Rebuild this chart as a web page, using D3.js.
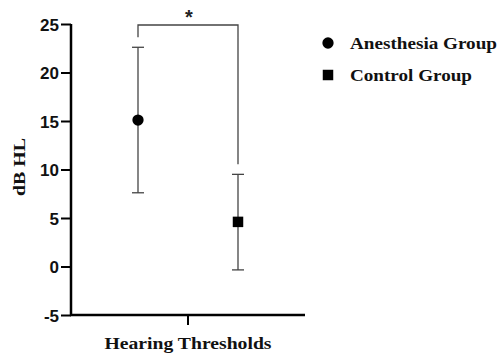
<!DOCTYPE html>
<html>
<head>
<meta charset="utf-8">
<script src="https://cdn.jsdelivr.net/npm/d3@7"></script>
<style>
  body { margin: 0; background: #fff; }
  .tick text { font-family: "Liberation Sans", Arial, sans-serif; font-weight: bold; font-size: 17px; fill: #111; }
  .serif { font-family: "Liberation Serif", "Times New Roman", serif; font-weight: bold; fill: #111; }
</style>
</head>
<body>
<div id="main"></div>
<script>
var groups = ["Anesthesia Group", "Control Group"];
var means = [15.1, 4.6];
var upper = [22.6, 9.5];
var lower = [7.6, -0.35];
var yTicks = [-5, 0, 5, 10, 15, 20, 25];
var signif = "*";

var width = 501, height = 354;
var margin = { left: 71, top: 24, right: 196, bottom: 39 };

var svg = d3.select("#main").append("svg")
    .attr("width", width)
    .attr("height", height);

var y = d3.scaleLinear().domain([-5, 25]).range([height - margin.bottom, margin.top]);
var x = d3.scalePoint().domain(groups).range([138, 238]);
var xAxisScale = d3.scaleBand().domain(["Hearing Thresholds"]).range([margin.left, width - margin.right]);

// y axis
var yAxis = svg.append("g")
    .attr("transform", "translate(" + margin.left + ",0)")
    .call(d3.axisLeft(y).tickValues(yTicks).tickSize(10).tickPadding(2)
        .tickFormat(function (d) { return String(d); }));
yAxis.select(".domain").attr("stroke-width", 2.5).attr("d", "M0," + y(-5) + "V" + y(25));
yAxis.selectAll(".tick line").attr("stroke-width", 2);
yAxis.selectAll(".tick text").attr("dy", "0.36em");

// x axis
var xAxis = svg.append("g")
    .attr("transform", "translate(0," + y(-5) + ")")
    .call(d3.axisBottom(xAxisScale).tickSize(10).tickFormat(""));
xAxis.select(".domain").attr("stroke-width", 2.5)
    .attr("d", "M" + (margin.left - 1) + ",0H" + (width - margin.right));
xAxis.selectAll(".tick line").attr("stroke-width", 2);

svg.append("text")
    .attr("class", "serif")
    .attr("x", xAxisScale("Hearing Thresholds") + xAxisScale.bandwidth() / 2)
    .attr("y", 349)
    .attr("text-anchor", "middle")
    .attr("font-size", 17)
    .attr("textLength", 167)
    .attr("lengthAdjust", "spacingAndGlyphs")
    .text("Hearing Thresholds");

svg.append("text")
    .attr("class", "serif")
    .attr("transform", "translate(25," + 167 + ") rotate(-90)")
    .attr("text-anchor", "middle")
    .attr("font-size", 17)
    .attr("textLength", 58)
    .attr("lengthAdjust", "spacingAndGlyphs")
    .text("dB HL");

// error bars
var eb = svg.selectAll(".eb").data(groups).enter().append("g").attr("class", "eb")
    .attr("stroke", "#444").attr("stroke-width", 1.3);
eb.append("line")
    .attr("x1", function (d) { return x(d); })
    .attr("x2", function (d) { return x(d); })
    .attr("y1", function (d, i) { return y(upper[i]); })
    .attr("y2", function (d, i) { return y(lower[i]); });
eb.append("line")
    .attr("x1", function (d) { return x(d) - 6; })
    .attr("x2", function (d) { return x(d) + 6; })
    .attr("y1", function (d, i) { return y(upper[i]); })
    .attr("y2", function (d, i) { return y(upper[i]); });
eb.append("line")
    .attr("x1", function (d) { return x(d) - 6; })
    .attr("x2", function (d) { return x(d) + 6; })
    .attr("y1", function (d, i) { return y(lower[i]); })
    .attr("y2", function (d, i) { return y(lower[i]); });

// markers
var sym = d3.scaleOrdinal().domain(groups).range([d3.symbolCircle, d3.symbolSquare]);
var symSize = d3.scaleOrdinal().domain(groups).range([100, 110]);
svg.selectAll(".pt").data(groups).enter().append("path")
    .attr("class", "pt")
    .attr("transform", function (d, i) { return "translate(" + x(d) + "," + y(means[i]) + ")"; })
    .attr("d", function (d) { return d3.symbol().type(sym(d)).size(symSize(d))(); })
    .attr("fill", "#000");

// significance bracket
var bTop = y(25) + 1;
svg.append("path")
    .attr("d", "M" + x(groups[0]) + "," + (y(upper[0]) - 10) + "V" + bTop +
        "H" + x(groups[1]) + "V" + (y(upper[1]) - 10))
    .attr("fill", "none").attr("stroke", "#444").attr("stroke-width", 1.3);
svg.append("text")
    .attr("x", (x(groups[0]) + x(groups[1])) / 2 + 1)
    .attr("y", bTop - 1)
    .attr("text-anchor", "middle")
    .attr("font-family", "Liberation Sans, Arial, sans-serif")
    .attr("font-weight", "bold")
    .attr("font-size", 20)
    .attr("fill", "#222")
    .text(signif);

// legend
var legendWidths = [147, 122];
var legend = svg.selectAll(".lg").data(groups).enter().append("g").attr("class", "lg")
    .attr("transform", function (d, i) { return "translate(328," + (43 + i * 32) + ")"; });
legend.append("path")
    .attr("d", function (d) { return d3.symbol().type(sym(d)).size(symSize(d))(); })
    .attr("fill", "#000");
legend.append("text")
    .attr("class", "serif")
    .attr("x", 22)
    .attr("y", 6)
    .attr("font-size", 17.5)
    .attr("textLength", function (d, i) { return legendWidths[i]; })
    .attr("lengthAdjust", "spacingAndGlyphs")
    .text(function (d) { return d; });
</script>
</body>
</html>
